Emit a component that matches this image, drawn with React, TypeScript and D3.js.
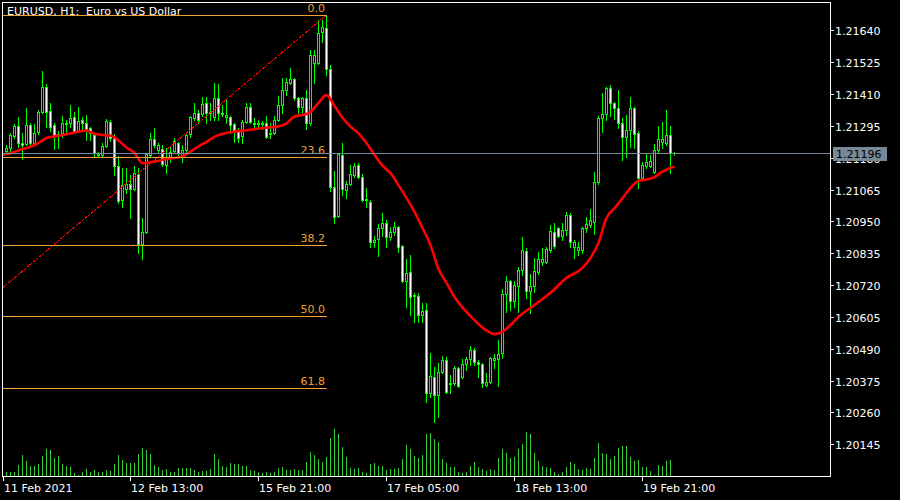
import React from 'react';
import * as d3 from 'd3';

const W = 900;
const H = 500;

const title = 'EURUSD, H1:  Euro vs US Dollar';

const opens = [
  1.21204, 1.21215, 1.21258, 1.21294, 1.21233, 1.21229, 1.21298, 1.21233, 1.21273, 1.21345,
  1.21435, 1.21349, 1.21298, 1.21266, 1.21269, 1.21305, 1.21305, 1.21327, 1.21280, 1.21316,
  1.21305, 1.21287, 1.21262, 1.21193, 1.21190, 1.21222, 1.21309, 1.21255, 1.21150, 1.21027,
  1.21067, 1.21085, 1.21067, 1.21121, 1.20868, 1.20912, 1.21190, 1.21248, 1.21208, 1.21211,
  1.21154, 1.21183, 1.21204, 1.21233, 1.21183, 1.21208, 1.21266, 1.21323, 1.21341, 1.21338,
  1.21378, 1.21341, 1.21327, 1.21396, 1.21341, 1.21327, 1.21327, 1.21302, 1.21276, 1.21258,
  1.21309, 1.21363, 1.21305, 1.21302, 1.21305, 1.21305, 1.21266, 1.21269, 1.21316, 1.21370,
  1.21425, 1.21450, 1.21464, 1.21396, 1.21363, 1.21396, 1.21305, 1.21522, 1.21522, 1.21634,
  1.21648, 1.21500, 1.21074, 1.20970, 1.21190, 1.21063, 1.21085, 1.21118, 1.21154, 1.21110,
  1.21027, 1.21020, 1.20876, 1.20887, 1.20926, 1.20944, 1.20894, 1.20912, 1.20930, 1.20861,
  1.20735, 1.20767, 1.20681, 1.20681, 1.20612, 1.20630, 1.20330, 1.20388, 1.20323, 1.20406,
  1.20450, 1.20363, 1.20367, 1.20421, 1.20388, 1.20435, 1.20453, 1.20486, 1.20442, 1.20435,
  1.20359, 1.20370, 1.20450, 1.20453, 1.20475, 1.20688, 1.20735, 1.20663, 1.20717, 1.20775,
  1.20843, 1.20699, 1.20717, 1.20767, 1.20803, 1.20803, 1.20847, 1.20912, 1.20926, 1.20897,
  1.20919, 1.20973, 1.20858, 1.20847, 1.20847, 1.20926, 1.20937, 1.20948, 1.21092, 1.21323,
  1.21338, 1.21432, 1.21378, 1.21360, 1.21305, 1.21255, 1.21280, 1.21360, 1.21269, 1.21107,
  1.21150, 1.21150, 1.21128, 1.21208, 1.21237, 1.21233, 1.21262, 1.21197,
];

const highs = [
  1.21226, 1.21269, 1.21302, 1.21327, 1.21269, 1.21360, 1.21305, 1.21302, 1.21352, 1.21493,
  1.21446, 1.21378, 1.21305, 1.21276, 1.21331, 1.21316, 1.21370, 1.21345, 1.21363, 1.21327,
  1.21334, 1.21291, 1.21269, 1.21201, 1.21233, 1.21320, 1.21316, 1.21266, 1.21186, 1.21143,
  1.21143, 1.21118, 1.21150, 1.21143, 1.20962, 1.21197, 1.21269, 1.21287, 1.21233, 1.21226,
  1.21215, 1.21219, 1.21251, 1.21237, 1.21226, 1.21273, 1.21331, 1.21378, 1.21352, 1.21399,
  1.21399, 1.21378, 1.21450, 1.21446, 1.21370, 1.21388, 1.21331, 1.21305, 1.21287, 1.21316,
  1.21378, 1.21378, 1.21323, 1.21316, 1.21313, 1.21331, 1.21305, 1.21331, 1.21403, 1.21468,
  1.21468, 1.21504, 1.21468, 1.21399, 1.21399, 1.21425, 1.21569, 1.21569, 1.21677, 1.21677,
  1.21695, 1.21515, 1.21132, 1.21197, 1.21233, 1.21096, 1.21154, 1.21161, 1.21161, 1.21121,
  1.21071, 1.21027, 1.20897, 1.20941, 1.20980, 1.20955, 1.20930, 1.20948, 1.20933, 1.20865,
  1.20814, 1.20829, 1.20692, 1.20692, 1.20655, 1.20655, 1.20475, 1.20424, 1.20439, 1.20464,
  1.20460, 1.20395, 1.20428, 1.20424, 1.20453, 1.20460, 1.20500, 1.20493, 1.20450, 1.20439,
  1.20403, 1.20460, 1.20471, 1.20522, 1.20706, 1.20753, 1.20738, 1.20735, 1.20785, 1.20894,
  1.20854, 1.20760, 1.20818, 1.20840, 1.20854, 1.20858, 1.20937, 1.20944, 1.20930, 1.20944,
  1.20984, 1.20980, 1.20883, 1.20876, 1.20930, 1.20966, 1.20995, 1.21128, 1.21331, 1.21414,
  1.21435, 1.21443, 1.21381, 1.21425, 1.21323, 1.21334, 1.21399, 1.21363, 1.21276, 1.21165,
  1.21193, 1.21190, 1.21229, 1.21294, 1.21309, 1.21352, 1.21294, 1.21201,
];

const lows = [
  1.21197, 1.21204, 1.21251, 1.21219, 1.21175, 1.21226, 1.21226, 1.21226, 1.21266, 1.21341,
  1.21291, 1.21276, 1.21211, 1.21215, 1.21255, 1.21269, 1.21291, 1.21269, 1.21276, 1.21284,
  1.21244, 1.21244, 1.21183, 1.21183, 1.21183, 1.21219, 1.21240, 1.21118, 1.21017, 1.21002,
  1.21053, 1.20962, 1.21063, 1.20836, 1.20814, 1.20908, 1.21186, 1.21219, 1.21197, 1.21150,
  1.21125, 1.21165, 1.21201, 1.21183, 1.21165, 1.21201, 1.21255, 1.21316, 1.21305, 1.21331,
  1.21305, 1.21316, 1.21316, 1.21316, 1.21331, 1.21305, 1.21269, 1.21237, 1.21237, 1.21233,
  1.21305, 1.21305, 1.21291, 1.21287, 1.21284, 1.21251, 1.21251, 1.21266, 1.21313, 1.21341,
  1.21406, 1.21446, 1.21388, 1.21341, 1.21345, 1.21284, 1.21298, 1.21450, 1.21518, 1.21598,
  1.21479, 1.21060, 1.20944, 1.20966, 1.21045, 1.21035, 1.21082, 1.21110, 1.21107, 1.21024,
  1.21002, 1.20858, 1.20858, 1.20825, 1.20897, 1.20858, 1.20883, 1.20901, 1.20840, 1.20731,
  1.20641, 1.20612, 1.20587, 1.20587, 1.20587, 1.20298, 1.20316, 1.20226, 1.20244, 1.20403,
  1.20330, 1.20330, 1.20359, 1.20352, 1.20385, 1.20413, 1.20432, 1.20432, 1.20388, 1.20352,
  1.20356, 1.20367, 1.20421, 1.20356, 1.20457, 1.20623, 1.20630, 1.20641, 1.20623, 1.20757,
  1.20673, 1.20619, 1.20695, 1.20760, 1.20793, 1.20800, 1.20840, 1.20854, 1.20894, 1.20883,
  1.20901, 1.20858, 1.20818, 1.20829, 1.20836, 1.20912, 1.20930, 1.20905, 1.21085, 1.21273,
  1.21316, 1.21331, 1.21320, 1.21287, 1.21172, 1.21183, 1.21219, 1.21215, 1.21071, 1.21103,
  1.21143, 1.21147, 1.21125, 1.21201, 1.21215, 1.21226, 1.21125, 1.21190,
];

const closes = [
  1.21215, 1.21262, 1.21294, 1.21233, 1.21226, 1.21298, 1.21233, 1.21269, 1.21345, 1.21435,
  1.21345, 1.21291, 1.21258, 1.21262, 1.21305, 1.21302, 1.21323, 1.21273, 1.21313, 1.21305,
  1.21284, 1.21269, 1.21197, 1.21190, 1.21222, 1.21313, 1.21251, 1.21150, 1.21024, 1.21082,
  1.21085, 1.21067, 1.21125, 1.20868, 1.20912, 1.21193, 1.21248, 1.21226, 1.21226, 1.21157,
  1.21183, 1.21201, 1.21240, 1.21197, 1.21208, 1.21262, 1.21327, 1.21341, 1.21316, 1.21374,
  1.21341, 1.21345, 1.21396, 1.21341, 1.21338, 1.21334, 1.21298, 1.21276, 1.21251, 1.21309,
  1.21363, 1.21309, 1.21302, 1.21305, 1.21302, 1.21255, 1.21269, 1.21316, 1.21370, 1.21425,
  1.21453, 1.21464, 1.21396, 1.21363, 1.21396, 1.21305, 1.21551, 1.21551, 1.21630, 1.21652,
  1.21500, 1.21074, 1.20966, 1.21193, 1.21067, 1.21085, 1.21121, 1.21150, 1.21110, 1.21027,
  1.21031, 1.20876, 1.20883, 1.20926, 1.20944, 1.20894, 1.20912, 1.20930, 1.20858, 1.20735,
  1.20764, 1.20677, 1.20684, 1.20612, 1.20627, 1.20330, 1.20392, 1.20323, 1.20406, 1.20450,
  1.20334, 1.20367, 1.20421, 1.20356, 1.20435, 1.20453, 1.20486, 1.20442, 1.20435, 1.20367,
  1.20370, 1.20457, 1.20457, 1.20471, 1.20688, 1.20735, 1.20663, 1.20720, 1.20775, 1.20847,
  1.20699, 1.20717, 1.20771, 1.20814, 1.20814, 1.20850, 1.20915, 1.20861, 1.20897, 1.20919,
  1.20973, 1.20876, 1.20876, 1.20858, 1.20926, 1.20941, 1.20955, 1.21092, 1.21323, 1.21338,
  1.21432, 1.21378, 1.21360, 1.21305, 1.21255, 1.21280, 1.21360, 1.21266, 1.21107, 1.21154,
  1.21165, 1.21168, 1.21208, 1.21248, 1.21248, 1.21262, 1.21197, 1.21196,
];

const volumes = [
  400, 400, 400, 1100, 2100, 1500, 1000, 1000, 1200, 2000,
  2700, 2600, 1800, 2000, 1200, 1000, 900, 300, 100, 400,
  700, 400, 600, 400, 400, 600, 500, 1200, 2100, 1600,
  1300, 1300, 1300, 2200, 2800, 2600, 2200, 1100, 900, 600,
  700, 400, 400, 800, 800, 800, 800, 600, 400, 500,
  500, 700, 2200, 1700, 1000, 900, 1300, 1200, 1200, 1000,
  1000, 600, 500, 400, 300, 400, 300, 400, 800, 900,
  600, 600, 700, 600, 600, 1400, 2400, 2100, 1700, 1400,
  1900, 3800, 4700, 4200, 2900, 1900, 800, 700, 800, 400,
  300, 1200, 1300, 1000, 1000, 600, 700, 700, 800, 1700,
  3100, 2700, 2000, 1800, 2100, 4200, 4300, 3700, 3400, 1700,
  1300, 900, 900, 400, 300, 400, 1000, 1400, 900, 700,
  500, 700, 600, 1800, 2700, 2300, 1800, 1900, 2700, 3200,
  4400, 4200, 2300, 1500, 1000, 900, 800, 400, 200, 400,
  900, 1400, 1200, 700, 600, 800, 700, 1800, 3300, 2300,
  2200, 1700, 2000, 2800, 3000, 3000, 1900, 1500, 1600, 900,
  900, 500, 100, 1100, 1000, 1500, 1600, 50,
];

const maBars = [
  -1, 0, 2, 4, 6, 8, 10, 12,
  16, 20, 22, 24, 26, 28, 30, 32, 34, 36,
  40, 44, 46, 48, 50, 52, 56, 60, 64, 68,
  70, 72, 74, 76, 78, 80, 82, 84, 86, 88,
  90, 92, 94, 96, 98, 100, 102, 104, 106, 108,
  110, 112, 116, 120, 122, 124, 126, 128, 132, 136,
  140, 144, 146, 148, 150, 152, 154, 156, 158, 160,
  162, 164, 166, 167,
];
const maValues = [
  1.21192, 1.21193, 1.21201, 1.21211, 1.21219, 1.21233, 1.21251, 1.21257,
  1.21267, 1.21278, 1.21266, 1.21262, 1.21260, 1.21242, 1.21217, 1.21197, 1.21160, 1.21163,
  1.21175, 1.21184, 1.21202, 1.21220, 1.21237, 1.21255, 1.21272, 1.21279, 1.21287, 1.21293,
  1.21304, 1.21329, 1.21334, 1.21345, 1.21378, 1.21406, 1.21367, 1.21324, 1.21292, 1.21268,
  1.21233, 1.21190, 1.21151, 1.21124, 1.21081, 1.21035, 1.20984, 1.20926, 1.20865, 1.20778,
  1.20728, 1.20677, 1.20608, 1.20556, 1.20543, 1.20551, 1.20576, 1.20605, 1.20648, 1.20692,
  1.20746, 1.20782, 1.20818, 1.20872, 1.20962, 1.20998, 1.21033, 1.21071, 1.21096, 1.21101,
  1.21110, 1.21130, 1.21143, 1.21147,
];

const priceTicks = [
  1.2164, 1.21525, 1.2141, 1.21295, 1.2118, 1.21065, 1.2095,
  1.20835, 1.2072, 1.20605, 1.2049, 1.20375, 1.2026, 1.20145,
];

const timeLabelBars = [0, 31, 63, 95, 127, 159];
const timeLabels = ['11 Feb 2021', '12 Feb 13:00', '15 Feb 21:00', '17 Feb 05:00', '18 Feb 13:00', '19 Feb 21:00'];

const fibBars = [-99, 80];
const fibPrices = [1.19518, 1.21695];
const fibLevels = [0, 23.6, 38.2, 50, 61.8];

const bidPrice = 1.21196;

const FONT = '"DejaVu Sans", Verdana, sans-serif';
const CANDLE = '#00ff00';
const VOL = '#32cd32';
const FIB = '#f0a030';

export default function App() {
  const L = 3, T = 3, R = 830, B = 476;
  const n = closes.length;
  const x = d3.scaleLinear().domain([0, n - 1]).range([6, 6 + 4 * (n - 1)]);
  const y = d3.scaleLinear().domain([1.20145, 1.2164]).range([444.3, 30.3]);
  const vy = d3.scaleLinear().domain([0, d3.max(volumes) as number]).range([B, B - 47]);
  const py = (p: number) => Math.round(y(p));

  const maLine = d3
    .line<number>()
    .x((_, i) => x(maBars[i]) + 0.5)
    .y((v) => y(v))
    .curve(d3.curveMonotoneX);

  const fibHigh = fibPrices[1];
  const fibLow = fibPrices[0];
  const fibX1 = x(fibBars[0]);
  const fibX2 = Math.round(x(fibBars[1])) + 1;

  const bidY = py(bidPrice) + 0.5;

  return (
    <svg
      width={W}
      height={H}
      style={{ position: 'absolute', left: 0, top: 0, display: 'block' }}
      fontFamily={FONT}
      fontSize={11}
    >
      <defs>
        <clipPath id="plot">
          <rect x={L} y={T} width={R - L} height={B - T} />
        </clipPath>
      </defs>
      <rect x={0} y={0} width={W} height={H} fill="#000" />

      <g clipPath="url(#plot)">
        {volumes.map((v, i) => {
          const cx = Math.round(x(i));
          const top = Math.round(vy(v));
          return <rect key={'v' + i} x={cx} y={top} width={1} height={Math.max(0, B - top)} fill={VOL} />;
        })}

        {closes.map((c, i) => {
          const o = opens[i];
          const cx = Math.round(x(i));
          const hy = py(highs[i]);
          const ly = py(lows[i]);
          const top = py(Math.max(o, c));
          const bot = py(Math.min(o, c));
          const bear = c < o;
          return (
            <g key={'c' + i}>
              <rect x={cx} y={hy} width={1} height={ly - hy + 1} fill={CANDLE} />
              <rect x={cx - 1} y={top} width={3} height={bot - top + 1} fill={CANDLE} />
              {bot - top >= 2 && (
                <rect x={cx} y={top + 1} width={1} height={bot - top - 1} fill={bear ? '#ffffff' : '#000000'} />
              )}
            </g>
          );
        })}

        <path d={maLine(maValues) || ''} fill="none" stroke="#ff0000" strokeWidth={2.6} />

        <line
          x1={fibX1 + 0.5}
          y1={y(fibLow)}
          x2={fibX2 - 0.5}
          y2={y(fibHigh)}
          stroke="#ff0000"
          strokeWidth={1}
          strokeDasharray="3 1"
          shapeRendering="crispEdges"
        />

        {fibLevels.map((lv) => {
          const p = fibHigh - ((fibHigh - fibLow) * lv) / 100;
          const ly = py(p) + 0.5;
          return (
            <g key={'f' + lv}>
              <line x1={fibX1} x2={fibX2} y1={ly} y2={ly} stroke={FIB} strokeWidth={1} />
              <text x={fibX2 - 2} y={ly - 3.5} fill={FIB} textAnchor="end">
                {lv.toFixed(1)}
              </text>
            </g>
          );
        })}

        <line x1={L} x2={R} y1={bidY} y2={bidY} stroke="#778899" strokeWidth={1} />
      </g>

      <rect x={2.5} y={2.5} width={R - 2} height={B - 2} fill="none" stroke="#ffffff" strokeWidth={1} />

      {priceTicks.map((t) => {
        const ty = py(t) + 0.5;
        return (
          <g key={'p' + t}>
            <line x1={R} x2={R + 4} y1={ty} y2={ty} stroke="#ffffff" />
            <text x={835} y={ty + 4} fill="#ffffff">
              {t.toFixed(5)}
            </text>
          </g>
        );
      })}

      <rect x={833} y={Math.round(bidY) - 7} width={54} height={14} fill="#778899" />
      <text x={836} y={bidY + 4.5} fill="#000000">
        {bidPrice.toFixed(5)}
      </text>

      {timeLabelBars.map((b, i) => {
        const tx = i === 0 ? L : Math.round(x(b));
        return (
          <g key={'t' + b}>
            <line x1={tx + 0.5} x2={tx + 0.5} y1={B} y2={B + 5} stroke="#ffffff" />
            <text x={tx + 1} y={492} fill="#ffffff">
              {timeLabels[i]}
            </text>
          </g>
        );
      })}

      <text x={7} y={15} fill="#ffffff" style={{ whiteSpace: 'pre' }}>
        {title}
      </text>
    </svg>
  );
}
